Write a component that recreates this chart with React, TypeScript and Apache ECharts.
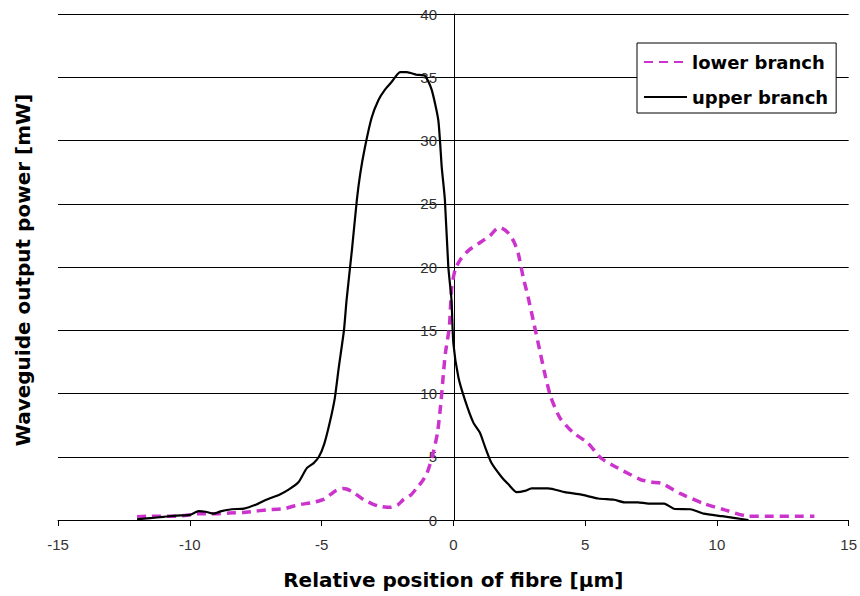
import React, { useEffect, useRef } from "react";
import * as echarts from "echarts";

const upperX = [
  -12.0, -11.5, -11.0, -10.5, -10.0, -9.66, -9.4, -9.1, -8.8, -8.4, -7.95, -7.5, -7.1, -6.6, -6.25,
  -5.87, -5.56, -5.3, -5.1, -4.9, -4.7, -4.5, -4.35, -4.15, -4.05, -3.85, -3.66, -3.53, -3.35, -3.1,
  -2.84, -2.6, -2.35, -2.02, -1.77, -1.4, -1.07, -0.82, -0.57, -0.44, -0.32, -0.19, -0.07, 0.0, 0.19,
  0.44, 0.76, 1.01, 1.2, 1.45, 1.83, 2.1, 2.4, 2.71, 2.97, 3.3, 3.6, 4.23, 4.86, 5.5, 6.1, 6.5, 7.0,
  7.4, 8.0, 8.4, 9.0, 9.5, 10.2, 10.7, 11.2,
];
const upperY = [
  0.05, 0.15, 0.25, 0.35, 0.4, 0.7, 0.65, 0.5, 0.7, 0.85, 0.9, 1.2, 1.6, 2.0, 2.4,
  3.0, 4.1, 4.5, 5.0, 6.0, 7.6, 9.6, 12.0, 15.0, 17.4, 21.3, 25.3, 27.4, 29.5, 31.8,
  33.2, 34.0, 34.6, 35.4, 35.4, 35.2, 35.1, 34.0, 31.6, 27.9, 25.3, 20.0, 17.4, 14.0, 11.3,
  9.5, 7.7, 6.9, 5.8, 4.5, 3.4, 2.8, 2.2, 2.3, 2.5, 2.5, 2.5, 2.2, 2.0, 1.7, 1.6, 1.4, 1.4,
  1.3, 1.3, 0.87, 0.85, 0.5, 0.3, 0.15, 0.0,
];
const lowerX = [
  -12.0, -11.5, -11.0, -10.5, -10.0, -9.66, -9.3, -8.9, -8.5, -8.0, -7.5, -7.1, -6.4, -5.9, -5.4,
  -4.9, -4.48, -4.2, -4.05, -3.8, -3.4, -3.1, -2.84, -2.4, -2.1, -1.9, -1.6, -1.4, -1.2, -1.0,
  -0.8, -0.6, -0.47, -0.38, -0.3, -0.15, -0.06, 0.07, 0.27, 0.57, 1.06, 1.4, 1.63, 1.8, 2.08,
  2.3, 2.46, 2.65, 2.84, 3.03, 3.29, 3.5, 3.7, 4.05, 4.55, 5.1, 5.6, 6.25, 7.1, 7.5, 7.9, 8.6,
  9.5, 10.3, 11.2, 12.0, 13.0, 13.7,
];
const lowerY = [
  0.25, 0.3, 0.3, 0.3, 0.4, 0.5, 0.5, 0.5, 0.55, 0.6, 0.7, 0.8, 0.9, 1.2, 1.35,
  1.65, 2.3, 2.5, 2.45, 2.2, 1.6, 1.3, 1.1, 1.0, 1.2, 1.6, 2.0, 2.5, 3.0, 3.7,
  5.0, 6.9, 9.3, 11.5, 13.2, 15.3, 18.4, 19.8, 20.6, 21.3, 22.0, 22.5, 23.0, 23.1, 22.7,
  22.0, 21.1, 19.2, 17.6, 15.8, 13.3, 11.3, 9.7, 8.05, 6.9, 6.1, 4.9, 4.1, 3.2, 3.0, 2.9, 2.1,
  1.3, 0.8, 0.3, 0.3, 0.3, 0.3,
];

const seriesNames = ["lower branch", "upper branch"];
const xMin = -15;
const xMax = 15;
const xStep = 5;
const yMin = 0;
const yMax = 40;
const yStep = 5;
const xTitle = "Relative position of fibre [µm]";
const yTitle = "Waveguide output power [mW]";

const GRID_LEFT = 58;
const GRID_RIGHT = 10;
const CHART_W = 860;

export default function App() {
  const ref = useRef<HTMLDivElement>(null);

  useEffect(() => {
    if (!ref.current) return;
    const chart = echarts.init(ref.current, null, { renderer: "svg" });
    const pair = (xs: number[], ys: number[]) => xs.map((x, i) => [x, ys[i]]);
    const plotW = CHART_W - GRID_LEFT - GRID_RIGHT;
    const zeroOffset = -((0 - xMin) / (xMax - xMin)) * plotW;
    const tickFont = {
      fontFamily: "'Liberation Sans', Arial, sans-serif",
      fontSize: 15,
      color: "#333",
    };
    chart.setOption({
      animation: false,
      backgroundColor: "#fff",
      grid: { left: GRID_LEFT, right: GRID_RIGHT, top: 14, bottom: 76 },
      xAxis: {
        type: "value",
        min: xMin,
        max: xMax,
        interval: xStep,
        name: xTitle,
        nameLocation: "middle",
        nameGap: 50,
        nameTextStyle: {
          fontFamily: "'DejaVu Sans', sans-serif",
          fontWeight: "bold",
          fontSize: 20,
          color: "#000",
        },
        axisLine: { show: true, onZero: true, lineStyle: { color: "#000", width: 1 } },
        axisTick: { show: true, length: 6, lineStyle: { color: "#000", width: 1 } },
        axisLabel: { ...tickFont, margin: 17 },
        splitLine: { show: false },
      },
      yAxis: {
        type: "value",
        min: yMin,
        max: yMax,
        interval: yStep,
        offset: zeroOffset,
        axisLine: { show: true, onZero: false, lineStyle: { color: "#000", width: 1 } },
        axisTick: { show: false },
        axisLabel: { ...tickFont, margin: 17 },
        splitLine: { show: true, lineStyle: { color: "#000", width: 1 } },
      },
      legend: {
        data: seriesNames,
        orient: "vertical",
        left: 637,
        top: 43,
        padding: [10, 8, 7, 6],
        itemGap: 17,
        itemWidth: 43,
        itemHeight: 14,
        borderColor: "#000",
        borderWidth: 1,
        backgroundColor: "#fff",
        itemStyle: { opacity: 0 },
        textStyle: {
          fontFamily: "'DejaVu Sans', sans-serif",
          fontWeight: "bold",
          fontSize: 18,
          color: "#000",
        },
      },
      graphic: [
        {
          type: "text",
          x: 23,
          y: 270,
          rotation: Math.PI / 2,
          style: {
            text: yTitle,
            font: "bold 20px 'DejaVu Sans', sans-serif",
            fill: "#000",
            align: "center",
            verticalAlign: "middle",
            textAlign: "center",
            textVerticalAlign: "middle",
          },
        },
      ],
      series: [
        {
          name: seriesNames[0],
          type: "line",
          data: pair(lowerX, lowerY),
          showSymbol: false,
          symbol: "none",
          smooth: 0.2,
          z: 2,
          lineStyle: { color: "#cc33cc", width: 3.5, type: [9, 6], cap: "butt" },
          itemStyle: { color: "#cc33cc" },
        },
        {
          name: seriesNames[1],
          type: "line",
          data: pair(upperX, upperY),
          showSymbol: false,
          symbol: "none",
          smooth: 0.2,
          z: 3,
          lineStyle: { color: "#000", width: 2.2 },
          itemStyle: { color: "#000" },
        },
      ],
    });
    return () => chart.dispose();
  }, []);

  return (
    <div
      ref={ref}
      style={{ position: "fixed", left: 0, top: 0, width: CHART_W, height: 596 }}
    />
  );
}
